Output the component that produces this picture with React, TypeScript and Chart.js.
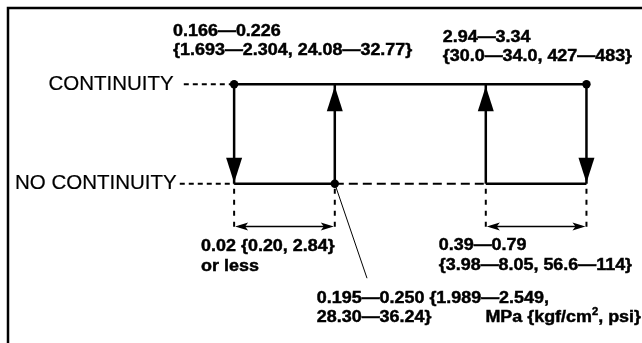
import React, { useEffect, useRef } from 'react';
import { Chart, registerables } from 'chart.js';

Chart.register(...registerables);

// ---- data (schematic diagram units) ----
const stateLabels = ['NO CONTINUITY', 'CONTINUITY'];
const stateValues = [0, 1];
// schematic pressure positions of the four switching points
const switchX = [0, 1, 2.5, 3.5];
const switchFrom = [1, 0, 0, 1];
const switchTo = [0, 1, 1, 0];
const dotX = [0, 3.5, 1];
const dotY = [1, 1, 0];
const hysteresisStart = [0, 2.5];
const hysteresisEnd = [1, 3.5];
const offLowLabel = ['0.166—0.226', '{1.693—2.304, 24.08—32.77}'];
const offHighLabel = ['2.94—3.34', '{30.0—34.0, 427—483}'];
const onLowLabel = ['0.195—0.250 {1.989—2.549,', '28.30—36.24}'];
const lowDiffLabel = ['0.02 {0.20, 2.84}', 'or less'];
const highDiffLabel = ['0.39—0.79', '{3.98—8.05, 56.6—114}'];
const unitLabel = ['MPa {kgf/cm', '2', ', psi}'];

const DROP = -0.46;
const DIM = -0.43;

const FONT = '"Liberation Sans", Arial, Helvetica, sans-serif';
const SX = 1.12;
const NUM = 16;

function txt(ctx: CanvasRenderingContext2D, s: string, x: number, y: number, size: number, bold: boolean, sx: number, align: CanvasTextAlign) {
  ctx.save();
  ctx.font = `${bold ? 'bold ' : ''}${size}px ${FONT}`;
  ctx.textBaseline = 'middle';
  ctx.textAlign = align;
  ctx.fillStyle = '#000';
  ctx.strokeStyle = '#000';
  ctx.lineWidth = bold ? 0.45 : 0.2;
  ctx.translate(x, y);
  ctx.scale(sx, 1);
  ctx.fillText(s, 0, 0);
  ctx.strokeText(s, 0, 0);
  ctx.restore();
}

const diagramPlugin = {
  id: 'diagram',
  beforeDraw(chart: any) {
    const ctx = chart.ctx as CanvasRenderingContext2D;
    ctx.save();
    ctx.fillStyle = '#fff';
    ctx.fillRect(0, 0, chart.width, chart.height);
    ctx.strokeStyle = '#000';
    ctx.lineWidth = 2.5;
    ctx.beginPath();
    ctx.moveTo(8, chart.height + 5);
    ctx.lineTo(8, 8);
    ctx.lineTo(chart.width + 5, 8);
    ctx.stroke();
    ctx.restore();
  },
  afterDatasetsDraw(chart: any) {
    const ctx = chart.ctx as CanvasRenderingContext2D;
    const xs = chart.scales.x;
    const ys = chart.scales.y;
    const px = (v: number) => xs.getPixelForValue(v);
    const py = (v: number) => ys.getPixelForValue(v);
    ctx.save();
    ctx.fillStyle = '#000';
    // main arrowheads
    for (let i = 0; i < switchX.length; i++) {
      const x = px(switchX[i]);
      const down = switchTo[i] < switchFrom[i];
      const tip = py(switchTo[i]) + (down ? -1 : 2);
      const base = tip + (down ? -25 : 25);
      ctx.beginPath();
      ctx.moveTo(x, tip);
      ctx.lineTo(x - 8, base);
      ctx.lineTo(x + 8, base);
      ctx.closePath();
      ctx.fill();
    }
    // dimension arrowheads
    const head = (x: number, y: number, dir: number) => {
      ctx.beginPath();
      ctx.moveTo(x, y);
      ctx.lineTo(x + dir * 13, y - 4);
      ctx.lineTo(x + dir * 10, y);
      ctx.lineTo(x + dir * 13, y + 4);
      ctx.closePath();
      ctx.fill();
    };
    for (let i = 0; i < hysteresisStart.length; i++) {
      const y = py(DIM);
      head(px(hysteresisStart[i]) + 1, y, 1);
      head(px(hysteresisEnd[i]) - 1, y, -1);
    }
    // state labels
    txt(ctx, stateLabels[1], px(-0.6), py(stateValues[1]), 20.5, false, 1, 'right');
    txt(ctx, stateLabels[0], px(-0.57), py(stateValues[0]), 20.5, false, 1, 'right');
    // value labels
    const x0 = px(switchX[0]);
    const x2 = px(switchX[2]);
    const x1 = px(switchX[1]);
    txt(ctx, offLowLabel[0], x0 - 61, 32, NUM, true, SX, 'left');
    txt(ctx, offLowLabel[1], x0 - 61, 51, NUM, true, SX, 'left');
    txt(ctx, offHighLabel[0], x2 - 43, 38, NUM, true, SX, 'left');
    txt(ctx, offHighLabel[1], x2 - 43, 57, NUM, true, SX, 'left');
    txt(ctx, lowDiffLabel[0], x0 - 33, 247, NUM, true, SX, 'left');
    txt(ctx, lowDiffLabel[1], x0 - 33, 267, NUM, true, SX, 'left');
    txt(ctx, highDiffLabel[0], x2 - 47, 246, NUM, true, SX, 'left');
    txt(ctx, highDiffLabel[1], x2 - 47, 266, NUM, true, SX, 'left');
    txt(ctx, onLowLabel[0], x1 - 18, 299, NUM, true, SX, 'left');
    txt(ctx, onLowLabel[1], x1 - 18, 318, NUM, true, SX, 'left');
    // unit label with superscript, right aligned
    ctx.font = `bold ${NUM}px ${FONT}`;
    const w1 = ctx.measureText(unitLabel[0]).width * SX;
    const w3 = ctx.measureText(unitLabel[2]).width * SX;
    ctx.font = `bold 10px ${FONT}`;
    const w2 = ctx.measureText(unitLabel[1]).width * SX;
    const right = chart.width - 1;
    let sx0 = right - (w1 + w2 + w3);
    txt(ctx, unitLabel[0], sx0, 318, NUM, true, SX, 'left');
    sx0 += w1;
    txt(ctx, unitLabel[1], sx0, 312, 10, true, SX, 'left');
    sx0 += w2;
    txt(ctx, unitLabel[2], sx0, 318, NUM, true, SX, 'left');
    ctx.restore();
  },
};

function seg(data: { x: number; y: number }[], width: number, dash: number[] = []) {
  return {
    data,
    showLine: true,
    borderColor: '#000',
    backgroundColor: '#000',
    borderWidth: width,
    borderDash: dash,
    pointRadius: 0,
    pointHoverRadius: 0,
    fill: false,
    tension: 0,
  };
}

export default function App() {
  const ref = useRef<HTMLCanvasElement>(null);
  useEffect(() => {
    const canvas = ref.current;
    if (!canvas) return;
    const datasets: any[] = [];
    // continuity level line
    datasets.push(seg([{ x: switchX[0], y: 1 }, { x: switchX[3], y: 1 }], 2.5));
    // no-continuity solid segments (hysteresis bands)
    for (let i = 0; i < hysteresisStart.length; i++) {
      datasets.push(seg([{ x: hysteresisStart[i], y: 0 }, { x: hysteresisEnd[i], y: 0 }], 2.5));
    }
    // dashed gap between bands
    datasets.push(seg([{ x: hysteresisEnd[0], y: 0 }, { x: hysteresisStart[1], y: 0 }], 2, [9, 5]));
    // switching verticals
    for (let i = 0; i < switchX.length; i++) {
      datasets.push(seg([{ x: switchX[i], y: switchFrom[i] }, { x: switchX[i], y: switchTo[i] }], 2.5));
    }
    // label leader dashes
    datasets.push(seg([{ x: -0.5, y: 1 }, { x: 0, y: 1 }], 2, [5, 4]));
    datasets.push(seg([{ x: -0.54, y: 0 }, { x: 0, y: 0 }], 2, [5, 4]));
    // drop lines
    for (let i = 0; i < switchX.length; i++) {
      datasets.push(seg([{ x: switchX[i], y: -0.05 }, { x: switchX[i], y: DROP }], 2, [5, 6]));
    }
    // dimension lines
    for (let i = 0; i < hysteresisStart.length; i++) {
      datasets.push(seg([{ x: hysteresisStart[i] + 0.05, y: DIM }, { x: hysteresisEnd[i] - 0.05, y: DIM }], 1.5));
    }
    // leader to lower label
    datasets.push(seg([{ x: switchX[1], y: 0 }, { x: 1.32, y: -0.95 }], 1));
    // dots
    datasets.push({
      data: dotX.map((x, i) => ({ x, y: dotY[i] })),
      showLine: false,
      pointRadius: 4.2,
      pointBackgroundColor: '#000',
      pointBorderColor: '#000',
      pointBorderWidth: 0,
      pointHoverRadius: 4.2,
    });

    const chart = new Chart(canvas, {
      type: 'scatter',
      data: { datasets },
      options: {
        responsive: false,
        maintainAspectRatio: false,
        animation: false,
        events: [],
        layout: { padding: 0 },
        plugins: { legend: { display: false }, tooltip: { enabled: false } },
        scales: {
          x: { type: 'linear', display: false, min: -2.284, max: 4.01 },
          y: { type: 'linear', display: false, min: -1.559, max: 1.804 },
        },
      },
      plugins: [diagramPlugin],
    });
    return () => chart.destroy();
  }, []);

  return (
    <div style={{ position: 'fixed', left: 0, top: 0, width: 642, height: 343, background: '#fff' }}>
      <canvas ref={ref} width={642} height={343} style={{ display: 'block', width: 642, height: 343 }} />
    </div>
  );
}
